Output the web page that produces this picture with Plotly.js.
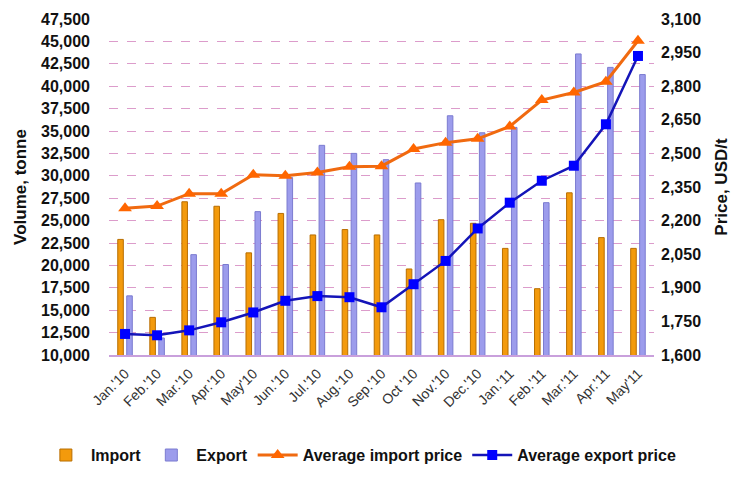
<!DOCTYPE html>
<html>
<head>
<meta charset="utf-8">
<script src="https://cdn.plot.ly/plotly-3.0.1.min.js"></script>
<style>
  html, body { margin: 0; padding: 0; background: #ffffff; }
  #chart { width: 742px; height: 485px; }
</style>
</head>
<body>
<div id="chart"></div>
<script>
// Monthly trade volumes (tonnes) and average prices (USD/t)
const months = ["Jan.'10", "Feb.'10", "Mar.'10", "Apr.'10", "May'10", "Jun.'10", "Jul.'10",
                "Aug.'10", "Sep.'10", "Oct '10", "Nov.'10", "Dec.'10", "Jan.'11", "Feb.'11",
                "Mar.'11", "Apr.'11", "May'11"];
const importVolume = [22900, 14200, 27100, 26600, 21400, 25800, 23400, 24000, 23400,
                      19600, 25100, 24700, 21900, 17400, 28100, 23100, 21900];
const exportVolume = [16600, 11900, 21200, 20100, 26000, 29800, 33400, 32500, 31800,
                      29200, 36700, 34800, 35400, 27000, 43600, 42100, 41300];
const importPrice = [2255, 2265, 2320, 2320, 2405, 2400, 2415, 2440, 2443,
                     2520, 2548, 2565, 2620, 2738, 2772, 2820, 3003];
const exportPrice = [1694, 1688, 1710, 1746, 1790, 1842, 1863, 1858, 1813,
                     1916, 2020, 2165, 2280, 2378, 2445, 2630, 2935];

// Axis ticks
const volumeTicks = [10000, 12500, 15000, 17500, 20000, 22500, 25000, 27500, 30000,
                     32500, 35000, 37500, 40000, 42500, 45000, 47500];
const volumeGrid = [12500, 15000, 17500, 20000, 22500, 25000, 27500, 30000,
                    32500, 35000, 37500, 40000, 42500, 45000];
const priceTicks = [1600, 1750, 1900, 2050, 2200, 2350, 2500, 2650, 2800, 2950, 3100];

const FONT = "Liberation Sans, Arial, Helvetica, sans-serif";

const traces = [
  {
    type: "bar", name: "Import", x: months, y: importVolume, yaxis: "y",
    marker: { color: "#f39a0c", line: { color: "#b86e00", width: 1 } }
  },
  {
    type: "bar", name: "Export", x: months, y: exportVolume, yaxis: "y",
    marker: { color: "#9c9cec", line: { color: "#7b7bd0", width: 1 } }
  },
  // carries the dashed horizontal grid of the volume scale
  { type: "scatter", x: [], y: [], yaxis: "y3", showlegend: false, hoverinfo: "skip" },
  {
    type: "scatter", mode: "lines+markers", name: "Average import price",
    x: months, y: importPrice, yaxis: "y2",
    line: { color: "#f06a10", width: 3 },
    marker: { symbol: "triangle-up", size: 12, color: "#ff6600" }
  },
  {
    type: "scatter", mode: "lines+markers", name: "Average export price",
    x: months, y: exportPrice, yaxis: "y2",
    line: { color: "#1414b8", width: 2.5 },
    marker: { symbol: "square", size: 10, color: "#0000ff" }
  }
];

const layout = {
  width: 742, height: 485,
  paper_bgcolor: "#ffffff", plot_bgcolor: "#ffffff",
  margin: { l: 109, r: 88, t: 19, b: 130 },
  font: { family: FONT, color: "#111111" },
  barmode: "group", bargap: 0.44, bargroupgap: 0.38,
  showlegend: true,
  legend: {
    orientation: "h", xref: "paper", yref: "paper",
    x: -0.125, xanchor: "left", y: -0.298, yanchor: "middle",
    font: { family: FONT, size: 16, weight: "bold", color: "#111111" },
    itemwidth: 40, traceorder: "normal", tracegroupgap: 0
  },
  xaxis: {
    type: "category", range: [-0.5, months.length - 0.5], tickangle: -45, automargin: false,
    tickfont: { family: FONT, size: 14, color: "#333333" },
    showgrid: false, zeroline: false,
    showline: true, linecolor: "#c9a0dc", linewidth: 2,
    ticks: "", ticklabelstandoff: 3
  },
  yaxis: {
    range: [10000, 47500], tickvals: volumeTicks, tickformat: ",d", automargin: false,
    showgrid: false, zeroline: false, showline: false, ticks: "",
    tickfont: { family: FONT, size: 16, weight: "bold", color: "#111111" },
    ticklabelstandoff: 18,
    title: { text: "Volume, tonne", standoff: 10,
             font: { family: FONT, size: 17, weight: "bold", color: "#111111" } }
  },
  yaxis3: {
    overlaying: "y", side: "left", range: [10000, 47500], automargin: false,
    tickvals: volumeGrid, showticklabels: false, ticks: "",
    showgrid: true, gridcolor: "#dc9ccb", gridwidth: 1, griddash: "dash",
    zeroline: false, showline: false
  },
  yaxis2: {
    overlaying: "y", side: "right", range: [1600, 3100], tickvals: priceTicks,
    tickformat: ",d", automargin: false,
    showgrid: false, zeroline: false, showline: false, ticks: "",
    tickfont: { family: FONT, size: 16, weight: "bold", color: "#111111" },
    ticklabelstandoff: 6,
    title: { text: "Price, USD/t", standoff: 14,
             font: { family: FONT, size: 17, weight: "bold", color: "#111111" } }
  }
};

Plotly.newPlot("chart", traces, layout, { displayModeBar: false, staticPlot: true });
</script>
</body>
</html>
